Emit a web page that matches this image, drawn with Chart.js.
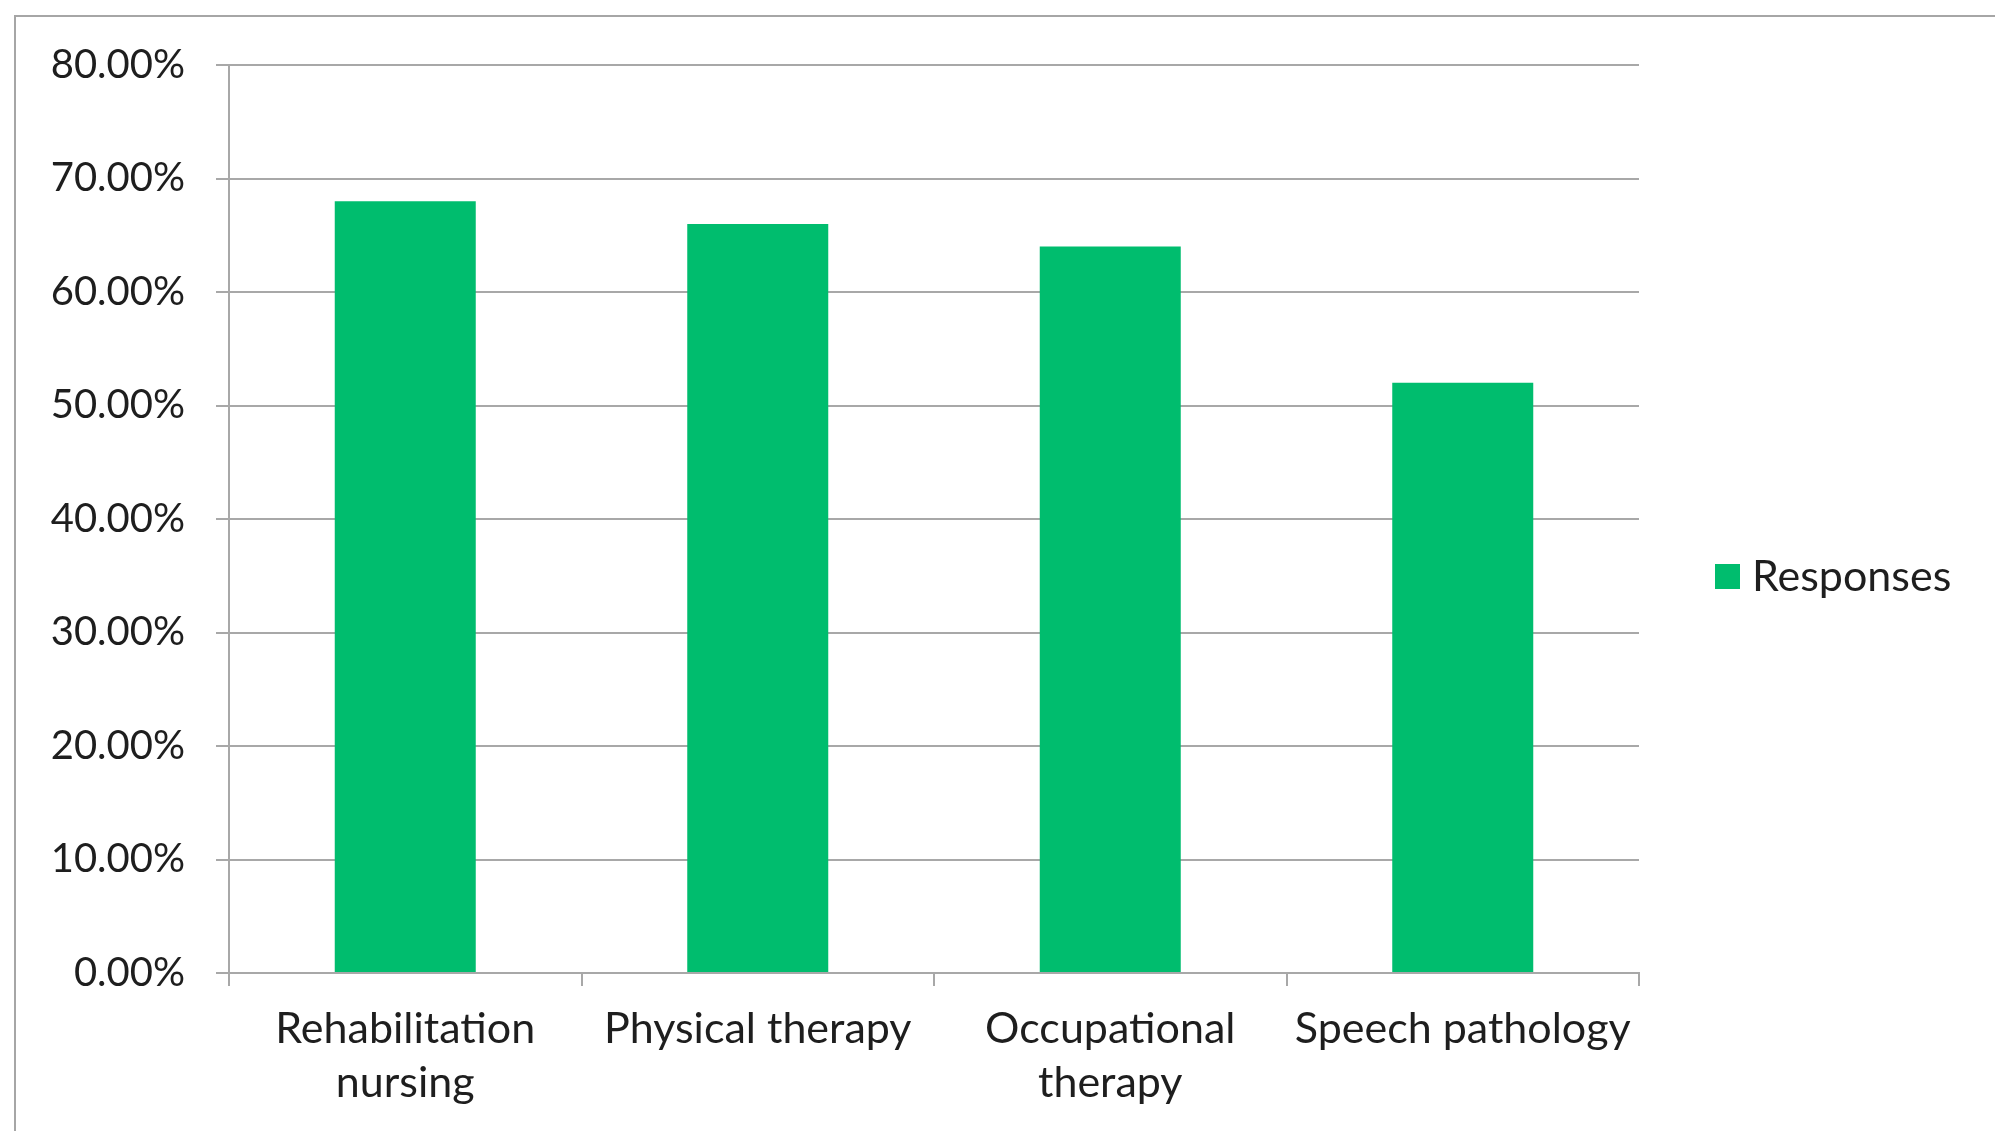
<!DOCTYPE html>
<html>
<head>
  <title>Responses</title>
  <style>
    body {
      margin: 0;
      background-color: #ffffff;
    }
    .frame {
      position: absolute;
      left: 14px;
      top: 15px;
      width: 3000px;
      height: 3000px;
      border-left: 2px solid #a6a6a6;
      border-top: 2px solid #a6a6a6;
    }
    #chart {
      position: absolute;
      left: 0;
      top: 0;
    }
  </style>
</head>
<body>
  <div class="frame"></div>
  <canvas id="chart" width="1995" height="1131"></canvas>

  <script src="https://cdn.jsdelivr.net/npm/chart.js"></script>
  <script>
    const categories = [
      ['Rehabilitation', 'nursing'],
      'Physical therapy',
      ['Occupational', 'therapy'],
      'Speech pathology'
    ];
    const responses = [68, 66, 64, 52];
    const seriesName = 'Responses';
    const yTicks = [0, 10, 20, 30, 40, 50, 60, 70, 80];

    const green = '#00bd6e';
    const gridColor = '#a8a8a8';
    const textColor = '#1e1e1e';

    // legend drawn by hand so it lands where the original had it
    const sideLegend = {
      id: 'sideLegend',
      afterDraw(chart) {
        const ctx = chart.ctx;
        const ds = chart.data.datasets[0];
        ctx.save();
        ctx.fillStyle = ds.backgroundColor;
        ctx.fillRect(1715, 564, 25, 25);
        ctx.fillStyle = textColor;
        ctx.font = '43px Lato';
        ctx.textBaseline = 'middle';
        ctx.textAlign = 'left';
        ctx.fillText(ds.label, 1752, 577);
        ctx.restore();
      }
    };

    new Chart(document.getElementById('chart').getContext('2d'), {
      type: 'bar',
      data: {
        labels: categories,
        datasets: [{
          label: seriesName,
          data: responses,
          backgroundColor: green,
          categoryPercentage: 1.0,
          barPercentage: 0.4
        }]
      },
      options: {
        responsive: false,
        animation: false,
        layout: {
          padding: { left: 0, top: 65, right: 356, bottom: 0 }
        },
        plugins: {
          legend: { display: false },
          tooltip: { enabled: false }
        },
        scales: {
          x: {
            afterFit: scale => { scale.height = 158; },
            grid: {
              drawOnChartArea: false,
              drawTicks: true,
              tickLength: 13,
              color: gridColor,
              lineWidth: 2
            },
            border: { display: true, color: gridColor, width: 2 },
            ticks: {
              autoSkip: false,
              maxRotation: 0,
              padding: 16,
              color: textColor,
              font: { family: 'Lato', size: 43, lineHeight: 1.26 }
            }
          },
          y: {
            min: 0,
            max: 80,
            afterFit: scale => { scale.width = 229; },
            afterBuildTicks: scale => {
              scale.ticks = yTicks.map(v => ({ value: v }));
            },
            grid: {
              drawTicks: true,
              tickLength: 13,
              color: gridColor,
              lineWidth: 2
            },
            border: { display: true, color: gridColor, width: 2 },
            ticks: {
              padding: 31,
              color: textColor,
              font: { family: 'Lato', size: 40 },
              callback: v => v.toFixed(2) + '%'
            }
          }
        }
      },
      plugins: [sideLegend]
    });
  </script>
</body>
</html>
